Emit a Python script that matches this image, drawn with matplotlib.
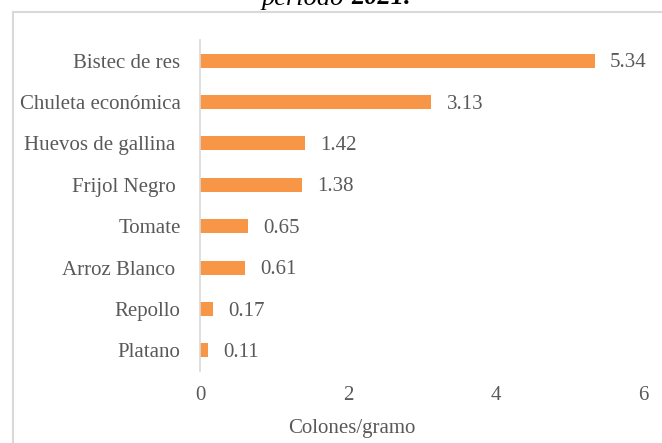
import matplotlib
matplotlib.use("Agg")
import matplotlib.pyplot as plt
from matplotlib.lines import Line2D

categories = ["Bistec de res", "Chuleta económica", "Huevos de gallina ", "Frijol Negro ",
              "Tomate", "Arroz Blanco ", "Repollo", "Platano"]
values = [5.34, 3.13, 1.42, 1.38, 0.65, 0.61, 0.17, 0.11]
xticks = [0, 2, 4, 6]
xlabel = "Colones/gramo"

plt.rcParams['font.family'] = ['Liberation Serif', 'DejaVu Serif']
txt = "#595959"
bar_color = "#F79646"
grid_c = "#d9d9d9"
fs = 15

fig = plt.figure(figsize=(6.62, 4.43), dpi=100)
ax = fig.add_axes([200/662, 1-371/443, 443.5/662, 331/443])

ypos = list(range(len(categories)))[::-1]
ax.barh(ypos, values, height=0.34, color=bar_color)
for y, v in zip(ypos, values):
    ax.annotate(f"{v:.2f}", (v, y), xytext=(11, -1.5), textcoords="offset points",
                va="center", ha="left", fontsize=fs, color=txt)

ax.set_xlim(0, 6)
ax.set_ylim(-0.5, len(categories)-0.5)
ax.set_yticks(ypos)
ax.set_yticklabels(categories, fontsize=fs, color=txt)
ax.set_xticks(xticks)
ax.set_xticklabels([str(t) for t in xticks], fontsize=fs, color=txt)
ax.tick_params(axis="both", length=0)
ax.tick_params(axis="y", pad=14)
ax.tick_params(axis="x", pad=11)
for s in ["top", "right", "bottom"]:
    ax.spines[s].set_visible(False)
ax.spines["left"].set_color(grid_c)
ax.spines["left"].set_linewidth(1.2)

# axis title (offset left of axes centre, as in the reference)
fig.text(352/662, 1-433.5/443, xlabel, ha="center", va="baseline", fontsize=fs, color=txt)

# chart border (partially visible)
fig.add_artist(Line2D([13/662, 1.0], [1-12/443, 1-12/443], transform=fig.transFigure,
                      color=grid_c, lw=1.5))
fig.add_artist(Line2D([13/662, 13/662], [0, 1-12/443], transform=fig.transFigure,
                      color=grid_c, lw=1.5))

# cut-off caption text at top
fig.text(351/662, 1-4.5/443, "período ", ha="right", va="baseline", fontsize=19,
         style="italic", color="black")
fig.text(351/662, 1-4.5/443, "2021.", ha="left", va="baseline", fontsize=19,
         style="italic", weight="bold", color="black")

fig.savefig("out.png", dpi=100)
